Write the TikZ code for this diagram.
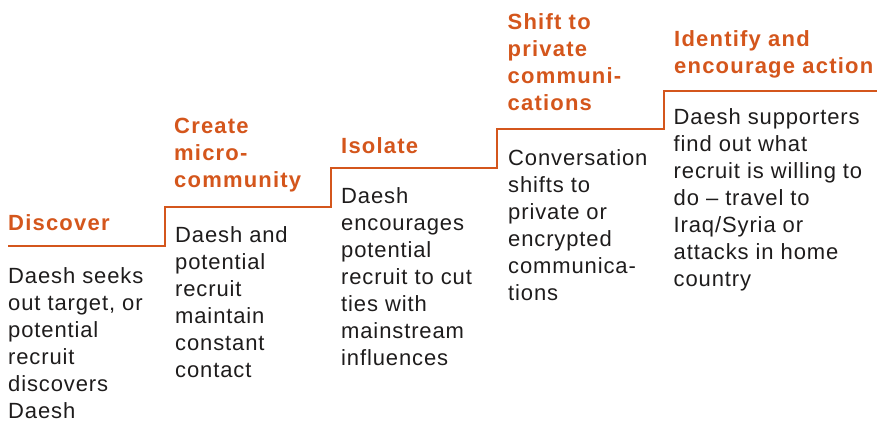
\documentclass[tikz,border=0pt]{standalone}
\usepackage{fontspec}
\setmainfont{Liberation Sans}
\newfontfamily\bodyfam{Liberation Sans}[LetterSpace=4.0]
\newfontfamily\headfam{Liberation Sans}[LetterSpace=5.5]
\definecolor{daeshorange}{RGB}{212,86,28}
\definecolor{bodytext}{RGB}{30,28,28}
\begin{document}
\begin{tikzpicture}[x=1pt,y=-1pt,
  head/.style={anchor=north west,inner sep=0pt,align=left,text=daeshorange,
    font=\headfam\bfseries\fontsize{22}{27}\selectfont},
  bodytx/.style={anchor=north west,inner sep=0pt,align=left,text=bodytext,
    font=\bodyfam\fontsize{22}{27}\selectfont},
  stair/.style={draw=daeshorange,line width=2pt,line join=miter}]
\useasboundingbox (0,0) rectangle (879,430);
% staircase
\coordinate (s0) at (8,246);
\coordinate (s1) at (165,246);
\coordinate (s2) at (165,207);
\coordinate (s3) at (331,207);
\coordinate (s4) at (331,168);
\coordinate (s5) at (497,168);
\coordinate (s6) at (497,129);
\coordinate (s7) at (664,129);
\coordinate (s8) at (664,91);
\coordinate (s9) at (877,91);
\draw[stair] (s0) -- (s1) -- (s2) -- (s3) -- (s4) -- (s5) -- (s6) -- (s7) -- (s8) -- (s9);
% headings
\node[head] (h1) at (8,214) {Discover};
\node[head] (h2) at (174,118) {Create\\micro-\\community};
\node[head] (h3) at (341,137) {Isolate};
\node[head] (h4) at (507.5,13) {Shift to\\private\\communi-\\cations};
\node[head] (h5) at (674,30) {Identify and\\encourage action};
% bodies
\node[bodytx] (b1) at (8,267) {Daesh seeks\\out target, or\\potential\\recruit\\discovers\\Daesh};
\node[bodytx] (b2) at (175,226) {Daesh and\\potential\\recruit\\maintain\\constant\\contact};
\node[bodytx] (b3) at (341,187) {Daesh\\encourages\\potential\\recruit to cut\\ties with\\mainstream\\influences};
\node[bodytx] (b4) at (508,149) {Conversation\\shifts to\\private or\\encrypted\\communica-\\tions};
\node[bodytx] (b5) at (673.5,108) {Daesh supporters\\find out what\\recruit is willing to\\do \textendash{} travel to\\Iraq/Syria or\\attacks in home\\country};
\end{tikzpicture}
\end{document}
